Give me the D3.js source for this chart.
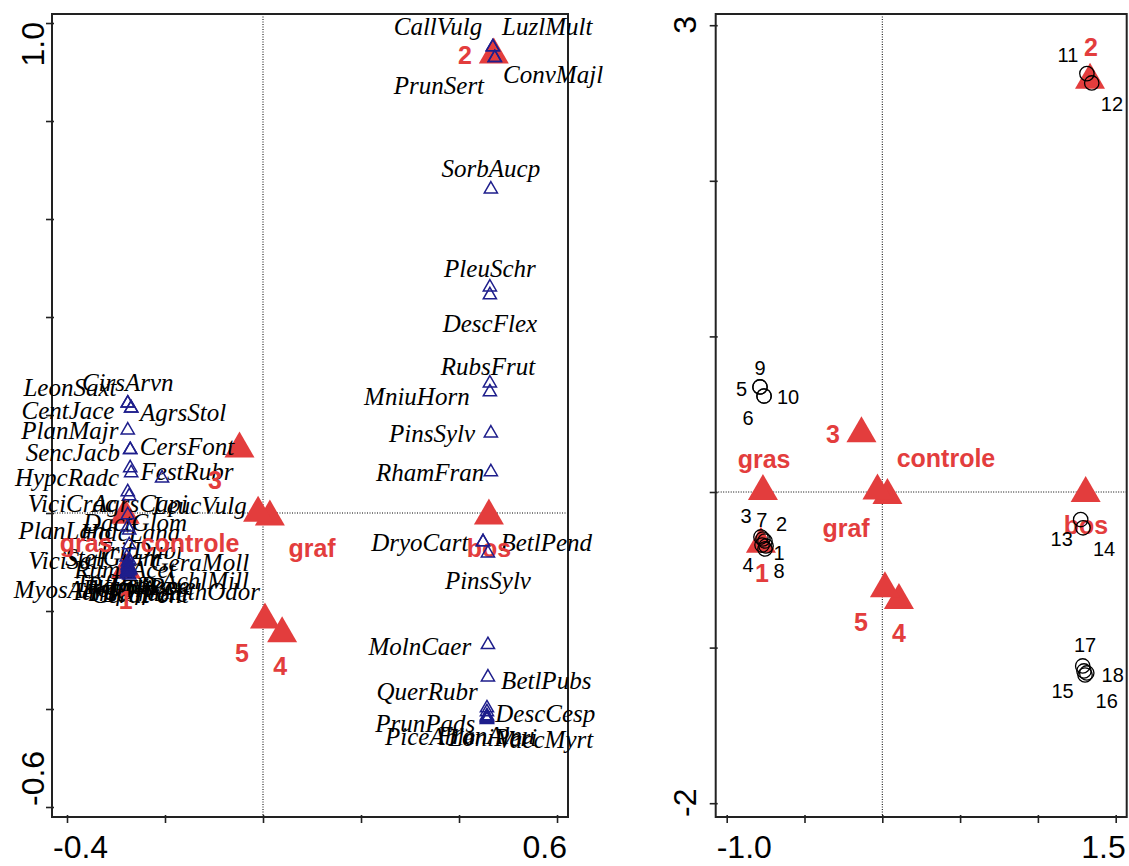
<!DOCTYPE html>
<html><head><meta charset="utf-8">
<script src="https://cdn.jsdelivr.net/npm/d3@7"></script>
<style>body{margin:0;background:#fff}</style>
</head><body>
<svg id="chart" width="1129" height="866"></svg>
<script>
// ---------- LEFT PANEL: species (blue open triangles) ----------
const speciesNames = ["CallVulg","LuzlMult","ConvMajl","PrunSert","SorbAucp","PleuSchr","DescFlex","RubsFrut","MniuHorn","PinsSylv","RhamFran","DryoCart","BetlPend","PinsSylv","MolnCaer","BetlPubs","QuerRubr","DescCesp","PrunPads","PiceAble","VaccMyrt","FranAlnu","LoniPeri",
  "CirsArvn","LeonSaxt","AgrsStol","CentJace","PlanMajr","SencJacb","CersFont","HypcRadc","FestRubr","ViciCrac","AgrsCapi","LeucVulg","DactGlom","PlanLanc","HolcLana","TrifDubi","ViciSati","GeraMoll","StelGram","RumxAcet","MyosArvn","AchlMill","AnthOdor","TrifRepe","TrifPrat","RanuRepe","BellPere","TaraOffi","LoliPere","PoaTriv","CeraFont"];
const speciesX = [0.469,0.469,0.473,0.473,0.465,0.463,0.463,0.463,0.463,0.465,0.465,0.449,0.449,0.459,0.459,0.459,0.457,0.457,0.457,0.457,0.457,0.457,0.457,
  -0.276,-0.276,-0.269,-0.269,-0.276,-0.271,-0.271,-0.271,-0.269,-0.276,-0.273,-0.206,-0.276,-0.276,-0.273,-0.273,-0.278,-0.273,-0.276,-0.276,-0.278,-0.271,-0.273,-0.276,-0.276,-0.273,-0.276,-0.278,-0.273,-0.276,-0.273];
const speciesY = [0.951,0.951,0.929,0.929,0.661,0.461,0.445,0.265,0.247,0.163,0.084,-0.059,-0.059,-0.082,-0.269,-0.335,-0.398,-0.406,-0.414,-0.422,-0.420,-0.418,-0.416,
  0.224,0.224,0.214,0.214,0.169,0.129,0.129,0.092,0.082,0.043,0.035,0.071,-0.004,-0.029,-0.035,-0.065,-0.090,-0.096,-0.100,-0.106,-0.120,-0.116,-0.127,-0.112,-0.118,-0.110,-0.122,-0.125,-0.114,-0.108,-0.118];
const speciesLabelX = [0.357,0.580,0.592,0.359,0.465,0.463,0.463,0.459,0.314,0.345,0.341,0.320,0.578,0.459,0.320,0.578,0.335,0.576,0.331,0.341,0.576,0.455,0.469,
  -0.276,-0.394,-0.163,-0.398,-0.394,-0.388,-0.155,-0.400,-0.155,-0.390,-0.251,-0.129,-0.261,-0.400,-0.271,-0.251,-0.400,-0.129,-0.306,-0.282,-0.404,-0.118,-0.108,-0.296,-0.278,-0.255,-0.241,-0.306,-0.226,-0.286,-0.251];
const speciesLabelY = [0.992,0.992,0.894,0.873,0.704,0.500,0.386,0.300,0.237,0.163,0.082,-0.061,-0.061,-0.137,-0.273,-0.341,-0.365,-0.410,-0.429,-0.457,-0.463,-0.455,-0.459,
  0.267,0.257,0.206,0.210,0.169,0.124,0.135,0.073,0.084,0.020,0.020,0.016,-0.020,-0.035,-0.039,-0.076,-0.096,-0.100,-0.090,-0.116,-0.157,-0.137,-0.161,-0.143,-0.163,-0.147,-0.165,-0.161,-0.149,-0.155,-0.167];

// ---------- nominal variables (red filled triangles) ----------
const envNames = ["1","2","3","4","5","gras","controle","graf","bos"];
const envXLeft = [-0.280,0.471,-0.048,0.039,0.004,-0.282,0.014,-0.010,0.461];
const envYLeft = [-0.116,0.935,0.131,-0.246,-0.218,-0.004,-0.008,0.000,-0.006];
const envLabelXLeft = [-0.280,0.412,-0.098,0.035,-0.043,-0.361,-0.149,0.100,0.461];
const envLabelYLeft = [-0.178,0.935,0.067,-0.312,-0.286,-0.061,-0.061,-0.071,-0.071];

const envXRight = [-0.780,1.335,-0.134,0.107,0.017,-0.767,0.033,-0.031,1.307];
const envYRight = [-0.334,2.647,0.375,-0.696,-0.621,0.005,-0.021,0.008,-0.008];
const envLabelXRight = [-0.773,1.341,-0.317,0.107,-0.137,-0.760,0.409,-0.233,1.309];
const envLabelYRight = [-0.521,2.860,0.373,-0.906,-0.835,0.212,0.219,-0.231,-0.212];

// ---------- RIGHT PANEL: samples (open circles) ----------
const sampleNames = ["1","2","3","4","5","6","7","8","9","10","11","12","13","14","15","16","17","18"];
const sampleX = [-0.747,-0.754,-0.780,-0.773,-0.786,-0.760,-0.767,-0.754,-0.786,-0.760,1.315,1.346,1.275,1.290,1.296,1.303,1.288,1.314];
const sampleY = [-0.347,-0.315,-0.289,-0.341,0.675,0.617,-0.302,-0.366,0.675,0.617,2.689,2.629,-0.177,-0.230,-1.150,-1.176,-1.118,-1.163];
const sampleLabelX = [-0.664,-0.647,-0.876,-0.863,-0.904,-0.863,-0.775,-0.664,-0.786,-0.606,1.193,1.476,1.153,1.425,1.159,1.442,1.303,1.481];
const sampleLabelY = [-0.389,-0.205,-0.152,-0.469,0.665,0.473,-0.177,-0.507,0.800,0.611,2.806,2.494,-0.302,-0.366,-1.277,-1.341,-0.983,-1.176];

// ---------- axes ----------
const leftXTicks = [-0.4,-0.2,0,0.2,0.4,0.6];
const leftYTicks = [-0.6,-0.4,-0.2,0,0.2,0.4,0.6,0.8,1.0];
const rightXTicks = [-1.0,-0.5,0,0.5,1.0,1.5];
const rightYTicks = [-2,-1,0,1,2,3];
const leftXEndLabels = ["-0.4","0.6"];
const leftYEndLabels = ["-0.6","1.0"];
const rightXEndLabels = ["-1.0","1.5"];
const rightYEndLabels = ["-2","3"];

const RED = "#e33d3d", BLUE = "#1e1e8c";
const svg = d3.select("#chart");

function frame(x, y, xt, yt, xl, yl) {
  const g = svg.append("g");
  const [x0, x1] = x.range(), [y0, y1] = y.range(); // y0 bottom, y1 top
  g.append("line").attr("x1", x(0)).attr("x2", x(0)).attr("y1", y1).attr("y2", y0)
    .attr("stroke", "#000").attr("stroke-width", 1).attr("stroke-dasharray", "1,1.5");
  g.append("line").attr("x1", x0).attr("x2", x1).attr("y1", y(0)).attr("y2", y(0))
    .attr("stroke", "#000").attr("stroke-width", 1).attr("stroke-dasharray", "1,1.5");
  const ax = g.append("g").attr("transform", `translate(0,${y0})`)
    .call(d3.axisBottom(x).tickValues(xt).tickFormat("").tickSizeInner(6).tickSizeOuter(0));
  const ay = g.append("g").attr("transform", `translate(${x0},0)`)
    .call(d3.axisLeft(y).tickValues(yt).tickFormat("").tickSizeInner(6).tickSizeOuter(0));
  [ax, ay].forEach(a => { a.select(".domain").remove(); a.selectAll(".tick line").attr("stroke", "#222").attr("stroke-width", 1.6); });
  ax.selectAll(".tick line").attr("y1", -2);
  ay.selectAll(".tick line").attr("x1", 2);
  g.append("rect").attr("x", x0).attr("y", y1).attr("width", x1 - x0).attr("height", y0 - y1)
    .attr("fill", "none").attr("stroke", "#222").attr("stroke-width", 2);
  const tf = "Liberation Sans, Arial, sans-serif";
  g.append("text").attr("x", x0 + 1).attr("y", 858).attr("text-anchor", "start")
    .attr("font-family", tf).attr("font-size", 32).text(xl[0]);
  g.append("text").attr("x", x1 - 1).attr("y", 858).attr("text-anchor", "end")
    .attr("font-family", tf).attr("font-size", 32).text(xl[1]);
  return g;
}

function rotLabel(xpos, ypos, anchor, txt) {
  svg.append("text").attr("transform", `translate(${xpos},${ypos}) rotate(-90)`)
    .attr("text-anchor", anchor).attr("font-family", "Liberation Sans, Arial, sans-serif")
    .attr("font-size", 32).text(txt);
}

// LEFT PANEL
const lx = d3.scaleLinear().domain([-0.4306, 0.6224]).range([52, 568]);
const ly = d3.scaleLinear().domain([-0.6204, 1.0184]).range([817, 14]);
frame(lx, ly, leftXTicks, leftYTicks, leftXEndLabels, leftYEndLabels);
rotLabel(44, 806, "start", leftYEndLabels[0]);
rotLabel(44, 22, "end", leftYEndLabels[1]);

const bigTri = d3.symbol().type(d3.symbolTriangle).size(390)();
const smallTri = d3.symbol().type(d3.symbolTriangle).size(75)();

const L = svg.append("g");
envNames.forEach((n, i) => {
  L.append("path").attr("d", bigTri).attr("fill", RED)
    .attr("transform", `translate(${lx(envXLeft[i])},${ly(envYLeft[i])})`);
});
speciesNames.forEach((n, i) => {
  L.append("text").attr("x", lx(speciesLabelX[i])).attr("y", ly(speciesLabelY[i]))
    .attr("text-anchor", "middle").attr("dominant-baseline", "central")
    .attr("font-family", "Liberation Serif, Times New Roman, serif").attr("font-style", "italic")
    .attr("font-size", 25).attr("fill", "#000").text(n);
});
envNames.forEach((n, i) => {
  L.append("text").attr("x", lx(envLabelXLeft[i])).attr("y", ly(envLabelYLeft[i]))
    .attr("text-anchor", "middle").attr("dominant-baseline", "central")
    .attr("font-family", "Liberation Sans, Arial, sans-serif").attr("font-weight", "bold")
    .attr("font-size", 25).attr("fill", RED).text(n);
});
speciesNames.forEach((n, i) => {
  L.append("path").attr("d", smallTri).attr("fill", "none").attr("stroke", BLUE).attr("stroke-width", 1.5)
    .attr("transform", `translate(${lx(speciesX[i])},${ly(speciesY[i])})`);
});

// RIGHT PANEL
const rx = d3.scaleLinear().domain([-1.0707, 1.5707]).range([715.7, 1126.7]);
const ry = d3.scaleLinear().domain([-2.0887, 3.072]).range([817, 14]);
frame(rx, ry, rightXTicks, rightYTicks, rightXEndLabels, rightYEndLabels);
rotLabel(696, 817, "start", rightYEndLabels[0]);
rotLabel(696, 16, "end", rightYEndLabels[1]);

const R = svg.append("g");
envNames.forEach((n, i) => {
  R.append("path").attr("d", bigTri).attr("fill", RED)
    .attr("transform", `translate(${rx(envXRight[i])},${ry(envYRight[i])})`);
});
envNames.forEach((n, i) => {
  R.append("text").attr("x", rx(envLabelXRight[i])).attr("y", ry(envLabelYRight[i]))
    .attr("text-anchor", "middle").attr("dominant-baseline", "central")
    .attr("font-family", "Liberation Sans, Arial, sans-serif").attr("font-weight", "bold")
    .attr("font-size", 25).attr("fill", RED).text(n);
});
sampleNames.forEach((n, i) => {
  R.append("circle").attr("cx", rx(sampleX[i])).attr("cy", ry(sampleY[i])).attr("r", 7.2)
    .attr("fill", "none").attr("stroke", "#000").attr("stroke-width", 1.3);
});
sampleNames.forEach((n, i) => {
  R.append("text").attr("x", rx(sampleLabelX[i])).attr("y", ry(sampleLabelY[i]))
    .attr("text-anchor", "middle").attr("dominant-baseline", "central")
    .attr("font-family", "Liberation Sans, Arial, sans-serif")
    .attr("font-size", 20).attr("fill", "#000").text(n);
});
</script>
</body></html>
